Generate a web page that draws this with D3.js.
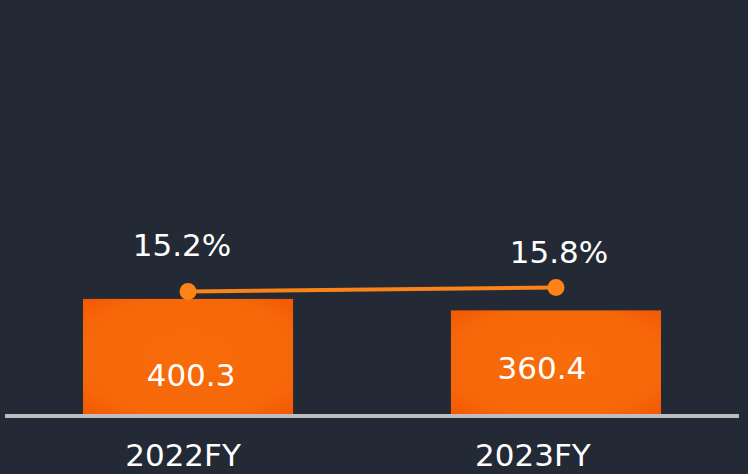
<!DOCTYPE html>
<html>
<head>
<meta charset="utf-8">
<script src="https://cdn.jsdelivr.net/npm/d3@7"></script>
<style>
  html, body { margin: 0; padding: 0; background: #232a35; }
  svg { display: block; }
  text { font-family: "DejaVu Sans", Verdana, sans-serif; fill: #ffffff; }
</style>
</head>
<body>
<div id="graph"></div>
<script>
// chart data
var years = ["2022FY", "2023FY"];
var sales = [400.3, 360.4];
var margins = [15.2, 15.8];
var marginLabels = ["15.2%", "15.8%"];

var width = 748;
var height = 474;
var fontSize = "31px";

// small hand nudges so labels sit where they do in the original
var pctNudge = [[-6, -35], [3, -24]];
var valNudge = [[3, -28], [-14, -35]];
var catNudge = [-5, -23];

var svg = d3.select("#graph")
    .append("svg")
    .attr("width", width)
    .attr("height", height);

svg.append("rect")
    .attr("width", width)
    .attr("height", height)
    .attr("fill", "#232a35");

// bar gradient - slightly darker at the edges
var defs = svg.append("defs");
var grad = defs.append("radialGradient")
    .attr("id", "barFill")
    .attr("cx", "50%").attr("cy", "50%").attr("r", "75%");
grad.append("stop").attr("offset", "0%").attr("stop-color", "#f76c0a");
grad.append("stop").attr("offset", "70%").attr("stop-color", "#f6670a");
grad.append("stop").attr("offset", "100%").attr("stop-color", "#f35400");

var x = d3.scaleBand()
    .domain(years)
    .range([5, 739])
    .paddingInner(0.429)
    .paddingOuter(0.212);

var yBar = d3.scaleLinear()
    .domain([0, 1440])
    .range([414, 0]);

var yLine = d3.scaleLinear()
    .domain([0, 58])
    .range([395, 0]);

var rows = years.map(function(d, i) {
    return { year: d, sales: sales[i], margin: margins[i], label: marginLabels[i], i: i };
});

// bars
svg.append("g")
    .selectAll("rect")
    .data(rows)
    .enter()
    .append("rect")
    .attr("x", d => x(d.year))
    .attr("y", d => yBar(d.sales))
    .attr("width", x.bandwidth())
    .attr("height", d => yBar(0) - yBar(d.sales))
    .attr("fill", "url(#barFill)");

// baseline
svg.append("line")
    .attr("x1", 5)
    .attr("x2", 739)
    .attr("y1", yBar(0) + 2)
    .attr("y2", yBar(0) + 2)
    .attr("stroke", "#bdbdbd")
    .attr("stroke-width", 4);

// bar values
svg.append("g")
    .selectAll("text")
    .data(rows)
    .enter()
    .append("text")
    .attr("x", d => x(d.year) + x.bandwidth() / 2 + valNudge[d.i][0])
    .attr("y", d => yBar(0) + valNudge[d.i][1])
    .attr("text-anchor", "middle")
    .style("font-size", fontSize)
    .text(d => d.sales.toFixed(1));

// margin line
var cx = d => x(d.year) + x.bandwidth() / 2;
svg.append("path")
    .datum(rows)
    .attr("fill", "none")
    .attr("stroke", "#fb8317")
    .attr("stroke-width", 4)
    .attr("d", d3.line().x(cx).y(d => yLine(d.margin)));

svg.append("g")
    .selectAll("circle")
    .data(rows)
    .enter()
    .append("circle")
    .attr("cx", cx)
    .attr("cy", d => yLine(d.margin))
    .attr("r", 8.5)
    .attr("fill", "#fb8317");

svg.append("g")
    .selectAll("text")
    .data(rows)
    .enter()
    .append("text")
    .attr("x", d => cx(d) + pctNudge[d.i][0])
    .attr("y", d => yLine(d.margin) + pctNudge[d.i][1])
    .attr("text-anchor", "middle")
    .style("font-size", fontSize)
    .text(d => d.label);

// category labels
svg.append("g")
    .selectAll("text")
    .data(rows)
    .enter()
    .append("text")
    .attr("x", d => cx(d) + catNudge[d.i])
    .attr("y", 466)
    .attr("text-anchor", "middle")
    .style("font-size", fontSize)
    .text(d => d.year);
</script>
</body>
</html>
